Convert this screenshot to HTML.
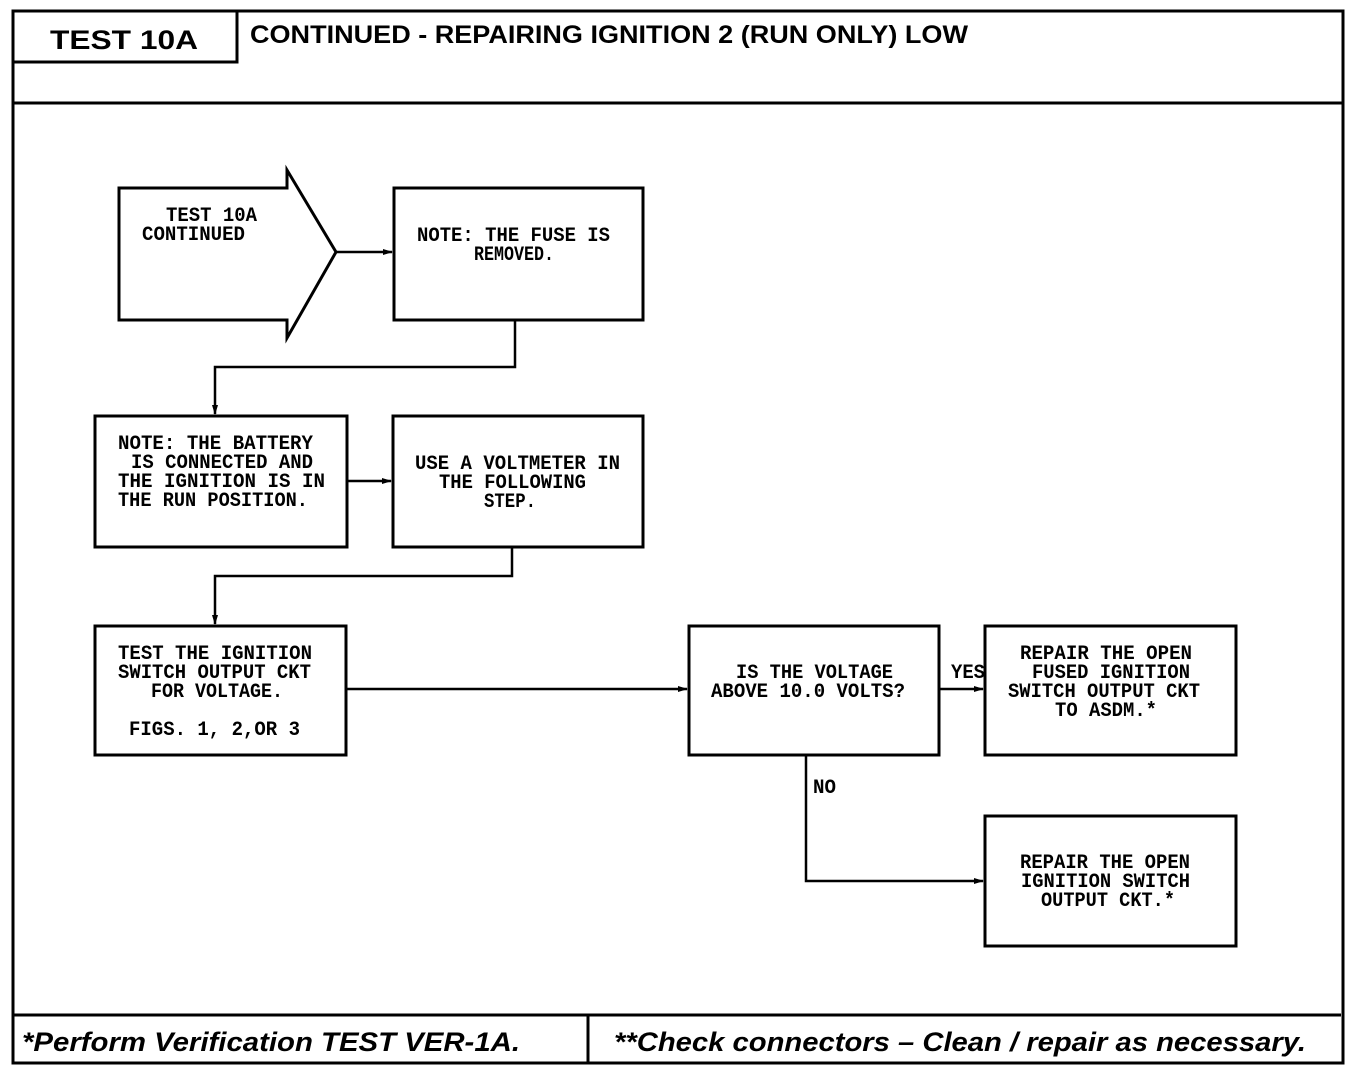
<!DOCTYPE html>
<html><head><meta charset="utf-8"><style>
html,body{margin:0;padding:0;background:#fff;}
svg{display:block}
.t{font-family:"Liberation Mono",monospace;font-size:20px;fill:#000;font-weight:bold;}
.h{font-family:"Liberation Sans",sans-serif;font-weight:bold;fill:#000;}
</style></head><body>
<svg width="1360" height="1072" viewBox="0 0 1360 1072" xmlns="http://www.w3.org/2000/svg">
<defs><marker id="a" markerWidth="10" markerHeight="8" refX="9" refY="4" orient="auto" markerUnits="userSpaceOnUse"><path d="M0,1 L10,4 L0,7 z" fill="#000"/></marker></defs>
<g fill="none" stroke="#000" stroke-width="3">
<path d="M13,11 H1343 V1063 H13 Z"/>
<path d="M13,62 H237 V11"/>
<path d="M13,103 H1343"/>
<path d="M13,1015 H1341"/>
<path d="M588,1015 V1063"/>
<path d="M119,188 H287 V170 L336,252 L287,338 V320 H119 Z"/>
<rect x="394" y="188" width="249" height="132"/>
<rect x="95" y="416" width="252" height="131"/>
<rect x="393" y="416" width="250" height="131"/>
<rect x="95" y="626" width="251" height="129"/>
<rect x="689" y="626" width="250" height="129"/>
<rect x="985" y="626" width="251" height="129"/>
<rect x="985" y="816" width="251" height="130"/>
</g>
<g fill="none" stroke="#000" stroke-width="2.5" marker-end="url(#a)">
<path d="M336,252 H392"/>
<path d="M515,320 V367 H215 V414"/>
<path d="M347,481 H391"/>
<path d="M512,547 V576 H215 V624"/>
<path d="M346,689 H687"/>
<path d="M939,689 H983"/>
<path d="M806,755 V881 H983"/>
</g>
<text class="h" x="50" y="49" font-size="27" textLength="148" lengthAdjust="spacingAndGlyphs">TEST 10A</text>
<text class="h" x="250" y="43" font-size="25" textLength="718" lengthAdjust="spacingAndGlyphs">CONTINUED -  REPAIRING IGNITION 2 (RUN ONLY) LOW</text>
<text class="h" x="22" y="1051" font-size="27" font-style="italic" textLength="498" lengthAdjust="spacingAndGlyphs">*Perform Verification TEST VER-1A.</text>
<text class="h" x="614" y="1051" font-size="27" font-style="italic" textLength="692" lengthAdjust="spacingAndGlyphs">**Check connectors – Clean / repair as necessary.</text>
<g class="t">
<text class="t" x="166" y="221" textLength="91" lengthAdjust="spacingAndGlyphs">TEST 10A</text>
<text class="t" x="142" y="240" textLength="103" lengthAdjust="spacingAndGlyphs">CONTINUED</text>
<text class="t" x="417" y="241" textLength="193" lengthAdjust="spacingAndGlyphs">NOTE: THE FUSE IS</text>
<text class="t" x="474" y="260" textLength="80" lengthAdjust="spacingAndGlyphs">REMOVED.</text>
<text class="t" x="118" y="449" textLength="195" lengthAdjust="spacingAndGlyphs">NOTE: THE BATTERY</text>
<text class="t" x="131" y="468" textLength="182" lengthAdjust="spacingAndGlyphs">IS CONNECTED AND</text>
<text class="t" x="118" y="487" textLength="207" lengthAdjust="spacingAndGlyphs">THE IGNITION IS IN</text>
<text class="t" x="118" y="506" textLength="190" lengthAdjust="spacingAndGlyphs">THE RUN POSITION.</text>
<text class="t" x="415" y="469" textLength="205" lengthAdjust="spacingAndGlyphs">USE A VOLTMETER IN</text>
<text class="t" x="439" y="488" textLength="147" lengthAdjust="spacingAndGlyphs">THE FOLLOWING</text>
<text class="t" x="484" y="507" textLength="52" lengthAdjust="spacingAndGlyphs">STEP.</text>
<text class="t" x="118" y="659" textLength="194" lengthAdjust="spacingAndGlyphs">TEST THE IGNITION</text>
<text class="t" x="118" y="678" textLength="193" lengthAdjust="spacingAndGlyphs">SWITCH OUTPUT CKT</text>
<text class="t" x="151" y="697" textLength="132" lengthAdjust="spacingAndGlyphs">FOR VOLTAGE.</text>
<text class="t" x="129" y="735" textLength="171" lengthAdjust="spacingAndGlyphs">FIGS. 1, 2,OR 3</text>
<text class="t" x="736" y="678" textLength="157" lengthAdjust="spacingAndGlyphs">IS THE VOLTAGE</text>
<text class="t" x="711" y="697" textLength="194" lengthAdjust="spacingAndGlyphs">ABOVE 10.0 VOLTS?</text>
<text class="t" x="951" y="678" textLength="34" lengthAdjust="spacingAndGlyphs">YES</text>
<text class="t" x="1020" y="659" textLength="172" lengthAdjust="spacingAndGlyphs">REPAIR THE OPEN</text>
<text class="t" x="1032" y="678" textLength="158" lengthAdjust="spacingAndGlyphs">FUSED IGNITION</text>
<text class="t" x="1008" y="697" textLength="192" lengthAdjust="spacingAndGlyphs">SWITCH OUTPUT CKT</text>
<text class="t" x="1055" y="716" textLength="102" lengthAdjust="spacingAndGlyphs">TO ASDM.*</text>
<text class="t" x="813" y="793" textLength="23" lengthAdjust="spacingAndGlyphs">NO</text>
<text class="t" x="1020" y="868" textLength="170" lengthAdjust="spacingAndGlyphs">REPAIR THE OPEN</text>
<text class="t" x="1021" y="887" textLength="169" lengthAdjust="spacingAndGlyphs">IGNITION SWITCH</text>
<text class="t" x="1041" y="906" textLength="134" lengthAdjust="spacingAndGlyphs">OUTPUT CKT.*</text>
</g>
</svg>
</body></html>
